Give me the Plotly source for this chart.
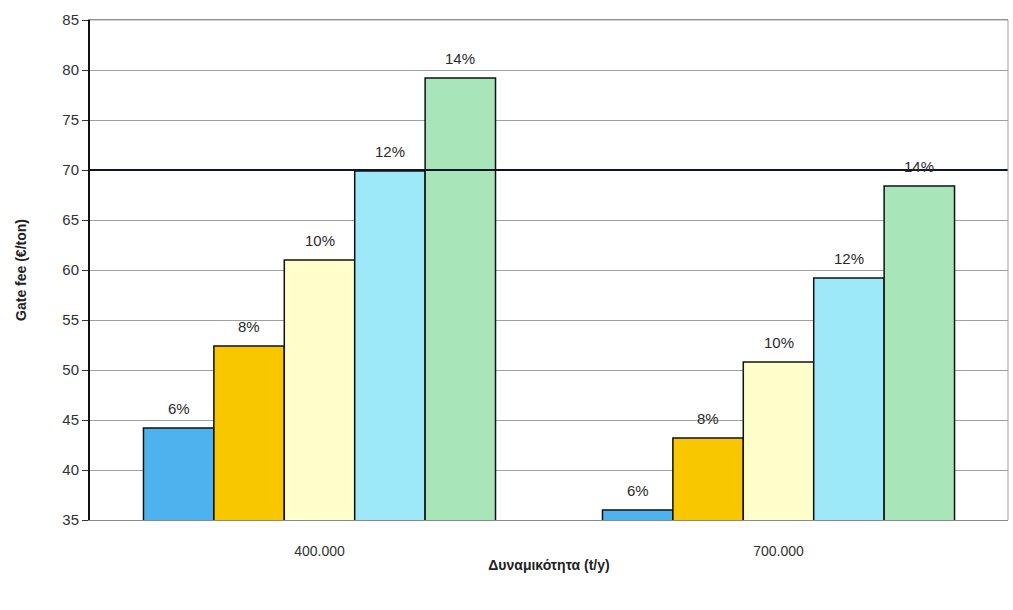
import plotly.graph_objects as go

# Plant capacity categories (t/y)
capacities = ["400.000", "700.000"]

# Discount-rate scenarios and resulting gate fee (€/ton)
rates = ["6%", "8%", "10%", "12%", "14%"]
fee_6 = [44.2, 36.0]
fee_8 = [52.4, 43.2]
fee_10 = [61.0, 50.8]
fee_12 = [69.9, 59.2]
fee_14 = [79.2, 68.4]

series = [fee_6, fee_8, fee_10, fee_12, fee_14]
colors = ["#4db2ee", "#f8c700", "#ffffcc", "#9de8f9", "#a8e6b9"]

# Reference threshold line
threshold = 70

BARGAP = 0.233
bar_w = (1 - BARGAP) / len(series)

fig = go.Figure()
for name, vals, col in zip(rates, series, colors):
    fig.add_trace(go.Bar(
        x=capacities,
        y=vals,
        name=name,
        marker=dict(color=col, line=dict(color="#111111", width=1.5)),
    ))

# value labels above each bar, placed at the grouped bar centres
for i, (name, vals) in enumerate(zip(rates, series)):
    for ci, v in enumerate(vals):
        fig.add_annotation(
            x=ci + (i - (len(series) - 1) / 2) * bar_w, y=v,
            xref="x", yref="y",
            text=name, showarrow=False,
            yanchor="bottom", yshift=9,
            font=dict(family="Liberation Sans, Arial", size=15, color="#2a2a2a"),
        )

fig.add_shape(
    type="line", xref="paper", yref="y",
    x0=0, x1=1, y0=threshold, y1=threshold,
    line=dict(color="#10142a", width=2),
)

fig.update_layout(
    width=1013, height=610,
    margin=dict(l=90, r=5, t=20, b=90),
    paper_bgcolor="white",
    plot_bgcolor="white",
    barmode="group",
    bargap=BARGAP,
    bargroupgap=0,
    showlegend=False,
    font=dict(family="Liberation Sans, Arial", color="#333333"),
    xaxis=dict(
        title=dict(text="<b>Δυναμικότητα (t/y)</b>", font=dict(size=14, color="#222222"), standoff=2),
        tickfont=dict(size=14, color="#333333"),
        ticklabelstandoff=18,
        showline=True, linecolor="#888888", linewidth=1,
        mirror=True,
        ticks="",
    ),
    yaxis=dict(
        title=dict(text="<b>Gate fee (€/ton)</b>", font=dict(size=14, color="#222222"), standoff=32),
        range=[35, 85],
        dtick=5,
        tickfont=dict(size=15, color="#333333"),
        showgrid=True, gridcolor="#a0a0a0", gridwidth=1,
        showline=True, linecolor="#111111", linewidth=2,
        ticks="outside", ticklen=6, tickcolor="#333333",
        zeroline=False,
    ),
)

# right and top frame lines in light grey
fig.add_shape(type="line", xref="paper", yref="paper", x0=1, x1=1, y0=0, y1=1,
              line=dict(color="#a0a0a0", width=1))
fig.add_shape(type="line", xref="paper", yref="paper", x0=0, x1=1, y0=1, y1=1,
              line=dict(color="#a0a0a0", width=1))

fig.write_html("out.html")
